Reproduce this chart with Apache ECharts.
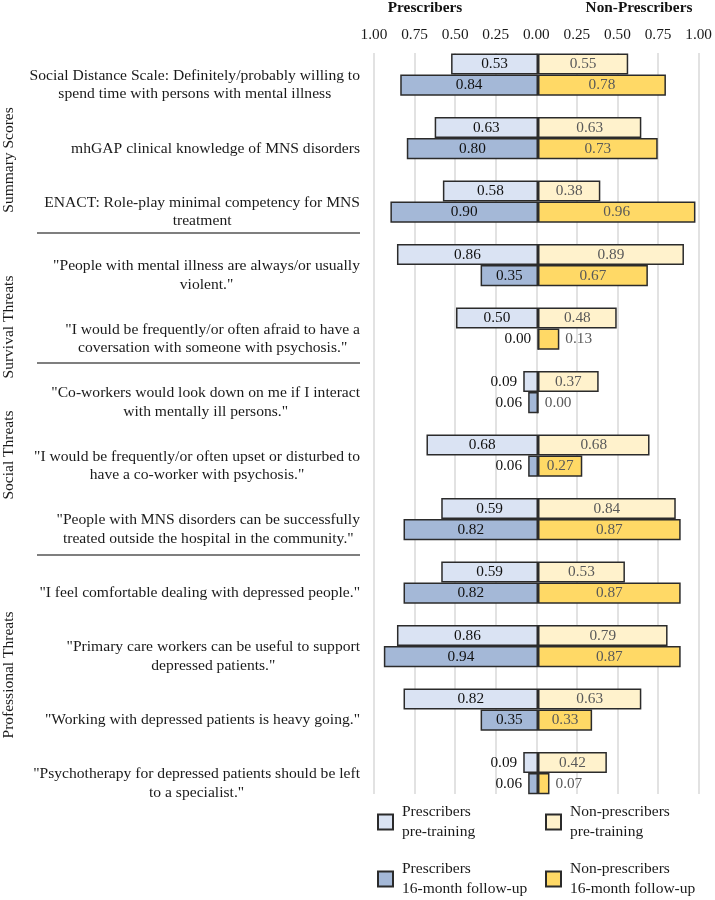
<!DOCTYPE html>
<html>
<head>
<meta charset="utf-8">
<script src="https://cdn.jsdelivr.net/npm/echarts@6/dist/echarts.min.js"></script>
<style>
html,body{margin:0;padding:0;background:#fff;}
#chart{width:715px;height:900px;}
</style>
</head>
<body>
<div id="chart"></div>
<script>
const categories = [
  'Social Distance Scale: Definitely/probably willing to\nspend time with persons with mental illness',
  'mhGAP clinical knowledge of MNS disorders',
  'ENACT: Role-play minimal competency for MNS\ntreatment',
  '"People with mental illness are always/or usually\nviolent."',
  '"I would be frequently/or often afraid to have a\ncoversation with someone with psychosis."',
  '"Co-workers would look down on me if I interact\nwith mentally ill persons."',
  '"I would be frequently/or often upset or disturbed to\nhave a co-worker with psychosis."',
  '"People with MNS disorders can be successfully\ntreated outside the hospital in the community."',
  '"I feel comfortable dealing with depressed people."',
  '"Primary care workers can be useful to support\ndepressed patients."',
  '"Working with depressed patients is heavy going."',
  '"Psychotherapy for depressed patients should be left\nto a specialist."'
];
const prescribersPre      = [0.53, 0.63, 0.58, 0.86, 0.50, 0.09, 0.68, 0.59, 0.59, 0.86, 0.82, 0.09];
const prescribersFollow   = [0.84, 0.80, 0.90, 0.35, 0.00, 0.06, 0.06, 0.82, 0.82, 0.94, 0.35, 0.06];
const nonPrescribersPre   = [0.55, 0.63, 0.38, 0.89, 0.48, 0.37, 0.68, 0.84, 0.53, 0.79, 0.63, 0.42];
const nonPrescribersFollow= [0.78, 0.73, 0.96, 0.67, 0.13, 0.00, 0.27, 0.87, 0.87, 0.87, 0.33, 0.07];
const seriesNames = ['Prescribers\npre-training', 'Non-prescribers\npre-training', 'Prescribers\n16-month follow-up', 'Non-prescribers\n16-month follow-up'];
const groupLabels = ['Summary Scores', 'Survival Threats', 'Social Threats', 'Professional Threats'];
const sideHeaders = ['Prescribers', 'Non-Prescribers'];

const FONT = '"Liberation Serif", "Times New Roman", serif';
const chart = echarts.init(document.getElementById('chart'), null, {renderer: 'canvas'});

function makeSeries(name, vals, sign, stack, color, labelColor) {
  return {
    name: name,
    type: 'bar',
    stack: stack,
    stackStrategy: sign < 0 ? 'negative' : 'positive',
    barCategoryGap: '0%', barGap: '0%',
    xAxisIndex: 0, yAxisIndex: 0,
    data: vals.map(v => ({
      value: sign * v,
      label: {position: v < 0.2 ? (sign < 0 ? 'left' : 'right') : 'inside'}
    })),
    itemStyle: {color: color, borderColor: '#2b2b2b', borderWidth: 1.5},
    label: {
      show: true,
      fontFamily: FONT, fontSize: 15.3, color: labelColor, distance: 6,
      formatter: p => Math.abs(p.value).toFixed(2)
    },
    emphasis: {disabled: true},
    z: 3
  };
}

const legendText = {fontFamily: FONT, fontSize: 15.5, lineHeight: 20, color: '#1a1a1a', padding: [0, 0, 0, 4]};

const option = {
  backgroundColor: '#fff',
  animation: false,
  grid: [
    {left: 374, right: 13, top: 53.4, height: 762, containLabel: false},
    {left: 374, right: 13, top: 53, height: 741, containLabel: false}
  ],
  xAxis: [
    {gridIndex: 0, type: 'value', min: -1, max: 1, interval: 0.25, show: false},
    {gridIndex: 1, type: 'value', min: -1, max: 1, interval: 0.25, position: 'top',
     axisLine: {show: false}, axisTick: {show: false},
     axisLabel: {margin: 11, fontFamily: FONT, fontSize: 15.3, color: '#1a1a1a',
                 formatter: v => Math.abs(v).toFixed(2)},
     splitLine: {show: true, lineStyle: {color: '#d9d9d9', width: 1.5}}}
  ],
  yAxis: [
    {gridIndex: 0, type: 'category', inverse: true, data: categories,
     axisLine: {show: false}, axisTick: {show: false}, splitLine: {show: false},
     axisLabel: {
       interval: 0, margin: 14, align: 'right',
       fontFamily: FONT, fontSize: 15.6, lineHeight: 18.5, color: '#1a1a1a',
       formatter: v => v.split('\n').map(l => '{c|' + l + '}').join('\n'),
       rich: {c: {align: 'center', fontFamily: FONT, fontSize: 15.6, lineHeight: 18.5, color: '#1a1a1a'}}
     }},
    {gridIndex: 1, type: 'value', show: false, min: 0, max: 1}
  ],
  legend: [
    {orient: 'vertical', left: 377, top: 802, padding: 0, itemGap: 17, itemWidth: 15, itemHeight: 15,
     icon: 'rect', selectedMode: false,
     data: [seriesNames[0], seriesNames[2]], textStyle: legendText},
    {orient: 'vertical', left: 545, top: 802, padding: 0, itemGap: 17, itemWidth: 15, itemHeight: 15,
     icon: 'rect', selectedMode: false,
     data: [seriesNames[1], seriesNames[3]], textStyle: legendText}
  ],
  series: [
    makeSeries(seriesNames[0], prescribersPre, -1, 'pre', '#dae3f3', '#111'),
    makeSeries(seriesNames[1], nonPrescribersPre, 1, 'pre', '#fff2cc', '#595959'),
    makeSeries(seriesNames[2], prescribersFollow, -1, 'fu', '#a4b8d7', '#111'),
    makeSeries(seriesNames[3], nonPrescribersFollow, 1, 'fu', '#ffd966', '#595959'),
    {type: 'bar', stack: 'spacer', silent: true, xAxisIndex: 0, yAxisIndex: 0,
     barCategoryGap: '0%', barGap: '0%',
     data: categories.map(() => '-'), itemStyle: {color: 'transparent'}}
  ],
  graphic: [
    {type: 'text', x: 425, y: 8, style: {text: sideHeaders[0], fill: '#111', font: 'bold 15.3px ' + FONT, textAlign: 'center', textVerticalAlign: 'middle'}},
    {type: 'text', x: 639, y: 8, style: {text: sideHeaders[1], fill: '#111', font: 'bold 15.3px ' + FONT, textAlign: 'center', textVerticalAlign: 'middle'}},
    {type: 'line', shape: {x1: 37, y1: 233, x2: 360, y2: 233}, style: {stroke: '#555', lineWidth: 1.5}},
    {type: 'line', shape: {x1: 37, y1: 363, x2: 360, y2: 363}, style: {stroke: '#555', lineWidth: 1.5}},
    {type: 'line', shape: {x1: 37, y1: 555, x2: 360, y2: 555}, style: {stroke: '#555', lineWidth: 1.5}},
    {type: 'text', x: 9, y: 160, rotation: Math.PI / 2, style: {text: groupLabels[0], fill: '#1a1a1a', font: '15.5px ' + FONT, textAlign: 'center', textVerticalAlign: 'middle'}},
    {type: 'text', x: 9, y: 327, rotation: Math.PI / 2, style: {text: groupLabels[1], fill: '#1a1a1a', font: '15.5px ' + FONT, textAlign: 'center', textVerticalAlign: 'middle'}},
    {type: 'text', x: 9, y: 455, rotation: Math.PI / 2, style: {text: groupLabels[2], fill: '#1a1a1a', font: '15.5px ' + FONT, textAlign: 'center', textVerticalAlign: 'middle'}},
    {type: 'text', x: 9, y: 675, rotation: Math.PI / 2, style: {text: groupLabels[3], fill: '#1a1a1a', font: '15.5px ' + FONT, textAlign: 'center', textVerticalAlign: 'middle'}}
  ]
};
chart.setOption(option);
</script>
</body>
</html>
